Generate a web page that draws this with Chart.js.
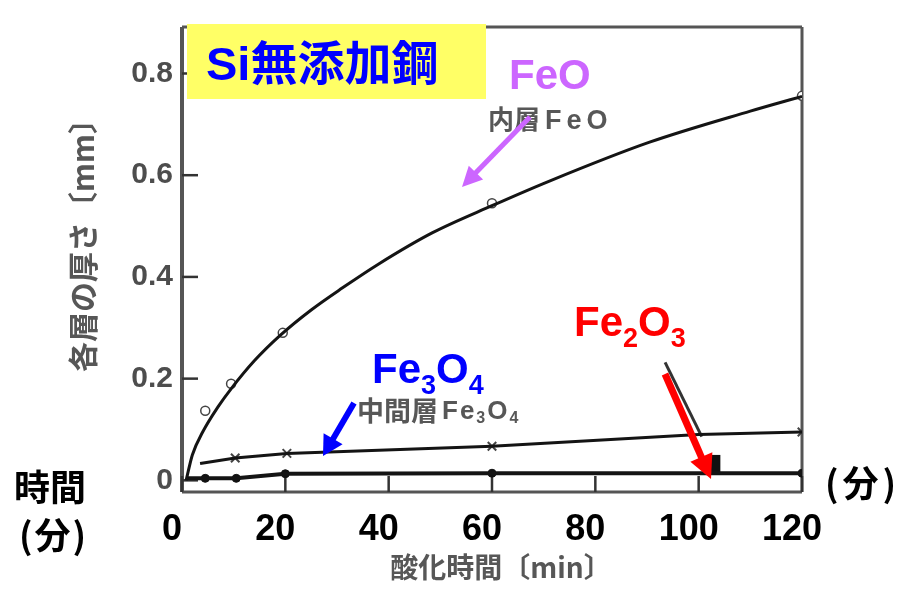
<!DOCTYPE html>
<html>
<head>
<meta charset="utf-8">
<script src="https://cdn.jsdelivr.net/npm/chart.js@4/dist/chart.umd.min.js"></script>
<style>
  html, body { margin: 0; padding: 0; background: #fff; }
  #wrap { width: 912px; height: 591px; position: relative; }
</style>
</head>
<body>
<div id="wrap"><canvas id="c" width="912" height="591"></canvas></div>
<script>
// Oxide scale thickness on Si-free steel vs. oxidation time
const xTicks = [0, 20, 40, 60, 80, 100, 120];
const yTicks = [0, 0.2, 0.4, 0.6, 0.8];

// inner layer FeO (traced curve and measured points)
const feoTime  = [0.8, 2, 4, 7, 9.5, 14, 19, 25, 31, 38, 48.5, 60, 71, 90.5, 110, 120];
const feoThick = [0, 0.05, 0.095, 0.145, 0.18, 0.235, 0.285, 0.335, 0.378, 0.425, 0.487, 0.54, 0.588, 0.665, 0.726, 0.755];
const feoPtTime  = [4.5, 9.5, 19.5, 60, 120];
const feoPtThick = [0.137, 0.19, 0.29, 0.545, 0.756];

// middle layer Fe3O4
const fe3o4Time  = [3.5, 10.3, 20.3, 60, 100, 120];
const fe3o4Thick = [0.033, 0.044, 0.053, 0.067, 0.09, 0.095];
const fe3o4PtTime  = [10.3, 20.3, 60, 120];
const fe3o4PtThick = [0.044, 0.053, 0.067, 0.095];

// outer layer Fe2O3
const fe2o3Time  = [1, 4.5, 10.5, 20, 60, 104, 120];
const fe2o3Thick = [0.004, 0.004, 0.004, 0.013, 0.014, 0.014, 0.014];
const fe2o3PtTime  = [4.5, 10.5, 20, 60, 120];
const fe2o3PtThick = [0.004, 0.004, 0.013, 0.014, 0.014];

const pts = (xs, ys) => xs.map((x, i) => ({ x: x, y: ys[i] }));

const INK = '#141414';
const SCAN = '#575757';
const LATIN = '"Liberation Sans", Arial, "Noto Sans CJK JP", sans-serif';
const CJK = '"Noto Sans CJK JP", "Liberation Sans", sans-serif';

function drawChem(ctx, parts, x, y, size, subSize, subDrop, color) {
  ctx.fillStyle = color;
  ctx.textBaseline = 'alphabetic';
  ctx.textAlign = 'left';
  let cx = x;
  for (const [t, sub] of parts) {
    ctx.font = 'bold ' + (sub ? subSize : size) + 'px ' + LATIN;
    ctx.fillText(t, cx, y + (sub ? subDrop : 0));
    cx += ctx.measureText(t).width;
  }
  return cx;
}

function drawArrow(ctx, x1, y1, x2, y2, color, w, headLen, headW) {
  const a = Math.atan2(y2 - y1, x2 - x1);
  const bx = x2 - headLen * Math.cos(a), by = y2 - headLen * Math.sin(a);
  ctx.save();
  ctx.strokeStyle = color;
  ctx.fillStyle = color;
  ctx.lineWidth = w;
  ctx.lineCap = 'butt';
  ctx.beginPath();
  ctx.moveTo(x1, y1);
  ctx.lineTo(bx + Math.cos(a) * 2, by + Math.sin(a) * 2);
  ctx.stroke();
  ctx.beginPath();
  ctx.moveTo(x2, y2);
  ctx.lineTo(bx + headW * Math.sin(a), by - headW * Math.cos(a));
  ctx.lineTo(bx - headW * Math.sin(a), by + headW * Math.cos(a));
  ctx.closePath();
  ctx.fill();
  ctx.restore();
}

// frame, inward ticks and the printed captions of the figure
const scanPlugin = {
  id: 'scanPlugin',
  beforeDatasetsDraw(chart) {
    const { ctx, chartArea: a, scales } = chart;
    const xs = scales.x, ys = scales.y;
    ctx.save();
    ctx.filter = 'blur(0.5px)';
    ctx.strokeStyle = '#555';
    // frame
    ctx.lineWidth = 4;
    ctx.beginPath(); ctx.moveTo(a.left, a.top); ctx.lineTo(a.left, a.bottom); ctx.stroke();
    ctx.lineWidth = 3;
    ctx.beginPath(); ctx.moveTo(a.left, a.top); ctx.lineTo(a.right, a.top); ctx.stroke();
    ctx.beginPath(); ctx.moveTo(a.right, a.top); ctx.lineTo(a.right, a.bottom); ctx.stroke();
    ctx.beginPath(); ctx.moveTo(a.left, a.bottom); ctx.lineTo(a.right, a.bottom); ctx.stroke();
    // inward ticks
    ctx.strokeStyle = '#333';
    ctx.lineWidth = 2.5;
    for (const v of xTicks) {
      const px = xs.getPixelForValue(v);
      ctx.beginPath(); ctx.moveTo(px, a.bottom); ctx.lineTo(px, a.bottom - 16); ctx.stroke();
    }
    for (const v of yTicks) {
      const py = ys.getPixelForValue(v);
      ctx.beginPath(); ctx.moveTo(a.left, py); ctx.lineTo(a.left + 16, py); ctx.stroke();
    }
    // axis titles
    ctx.fillStyle = SCAN;
    ctx.textBaseline = 'middle';
    ctx.textAlign = 'center';
    ctx.font = 'bold 30px ' + CJK;
    ctx.save();
    ctx.translate(83, 238);
    ctx.rotate(-Math.PI / 2);
    ctx.fillText('各層の厚さ〔mm〕', 0, 0, 272);
    ctx.restore();
    ctx.font = 'bold 28px ' + CJK;
    ctx.fillText('酸化時間〔min〕', 501, 567, 232);
    // layer captions
    ctx.textAlign = 'left';
    ctx.textBaseline = 'alphabetic';
    ctx.font = 'bold 26px ' + CJK;
    ctx.fillText('内層', 488, 129);
    ctx.letterSpacing = '5px';
    drawChem(ctx, [['FeO', 0]], 545, 129, 27, 16, 0, SCAN);
    ctx.letterSpacing = '0px';
    ctx.font = 'bold 27px ' + CJK;
    ctx.fillText('中間層', 357, 421);
    ctx.letterSpacing = '2px';
    drawChem(ctx, [['Fe', 0], ['3', 1], ['O', 0], ['4', 1]], 442, 419, 26, 16, 4, SCAN);
    ctx.letterSpacing = '0px';
    // leader and mark near 100 min
    ctx.strokeStyle = '#333';
    ctx.lineWidth = 3;
    ctx.beginPath();
    ctx.moveTo(xs.getPixelForValue(93.5), ys.getPixelForValue(0.232));
    ctx.lineTo(xs.getPixelForValue(100.6), ys.getPixelForValue(0.086));
    ctx.stroke();
    ctx.fillStyle = '#111';
    const bx = xs.getPixelForValue(102.2), bw = xs.getPixelForValue(104.2) - bx;
    const by = ys.getPixelForValue(0.05), bh = ys.getPixelForValue(0.012) - by;
    ctx.fillRect(bx, by, bw, bh);
    ctx.restore();
  },
  afterDraw(chart) {
    const { ctx } = chart;
    ctx.save();
    // title box
    ctx.fillStyle = '#ffff66';
    ctx.fillRect(187, 24, 299, 75);
    ctx.fillStyle = '#0000ff';
    ctx.textAlign = 'left';
    ctx.textBaseline = 'alphabetic';
    ctx.font = 'bold 47px ' + LATIN;
    ctx.fillText('Si無添加鋼', 206, 80);

    // layer names
    drawChem(ctx, [['FeO', 0]], 509, 89, 42, 28, 0, '#cc66ff');
    drawChem(ctx, [['Fe', 0], ['3', 1], ['O', 0], ['4', 1]], 372, 383, 42, 27, 11, '#0000ff');
    drawChem(ctx, [['Fe', 0], ['2', 1], ['O', 0], ['3', 1]], 574, 336, 42, 27, 11, '#ff0000');

    drawArrow(ctx, 530, 117, 462, 187, '#cc66ff', 5, 20, 10);
    drawArrow(ctx, 354, 403, 323, 456, '#0000ff', 6, 20, 11);
    drawArrow(ctx, 665, 374, 711, 479, '#ff0000', 7, 24, 12);

    // time unit captions
    ctx.fillStyle = '#000';
    ctx.textBaseline = 'middle';
    ctx.font = 'bold 36px ' + CJK;
    ctx.fillText('時間', 14, 487);
    ctx.letterSpacing = '2px';
    ctx.fillText('(分)', 19, 535);
    ctx.letterSpacing = '4px';
    ctx.fillText('(分)', 825, 483);
    ctx.letterSpacing = '0px';
    ctx.restore();
  }
};

new Chart(document.getElementById('c'), {
  type: 'line',
  data: {
    datasets: [
      { data: pts(feoTime, feoThick), borderColor: INK, borderWidth: 3, pointRadius: 0,
        cubicInterpolationMode: 'monotone', fill: false },
      { data: pts(feoPtTime, feoPtThick), showLine: false, pointStyle: 'circle', pointRadius: 4.5,
        pointBorderColor: '#444', pointBackgroundColor: '#fff', pointBorderWidth: 1.5 },
      { data: pts(fe3o4Time, fe3o4Thick), borderColor: INK, borderWidth: 3, pointRadius: 0, tension: 0, fill: false },
      { data: pts(fe3o4PtTime, fe3o4PtThick), showLine: false, pointStyle: 'crossRot', pointRadius: 6,
        pointBorderColor: '#444', pointBorderWidth: 2 },
      { data: pts(fe2o3Time, fe2o3Thick), borderColor: INK, borderWidth: 4, pointRadius: 0, tension: 0, fill: false },
      { data: pts(fe2o3PtTime, fe2o3PtThick), showLine: false, pointStyle: 'circle', pointRadius: 4,
        pointBorderColor: '#111', pointBackgroundColor: '#111', pointBorderWidth: 1 }
    ]
  },
  options: {
    responsive: false,
    animation: false,
    devicePixelRatio: 1,
    layout: { padding: { left: 82, right: 110, top: 12, bottom: 39 } },
    plugins: { legend: { display: false }, tooltip: { enabled: false } },
    scales: {
      x: {
        type: 'linear', min: 0, max: 120,
        afterBuildTicks: s => { s.ticks = xTicks.map(v => ({ value: v })); },
        afterFit: s => { s.height = 60; },
        grid: { display: false, drawTicks: false },
        border: { display: false },
        ticks: {
          autoSkip: false, maxRotation: 0, padding: 16, labelOffset: -10,
          color: '#000', font: { family: LATIN, size: 36, weight: 'bold', lineHeight: 1.2 }
        }
      },
      y: {
        type: 'linear', min: -0.0229, max: 0.8914,
        afterBuildTicks: s => { s.ticks = yTicks.map(v => ({ value: v })); },
        afterFit: s => { s.width = 100; },
        grid: { display: false, drawTicks: false },
        border: { display: false },
        ticks: {
          padding: 9, color: '#4d4d4d',
          font: { family: LATIN, size: 30, weight: 'bold' },
          callback: v => (v === 0 ? '0' : v.toFixed(1))
        }
      }
    }
  },
  plugins: [scanPlugin]
});
</script>
</body>
</html>
